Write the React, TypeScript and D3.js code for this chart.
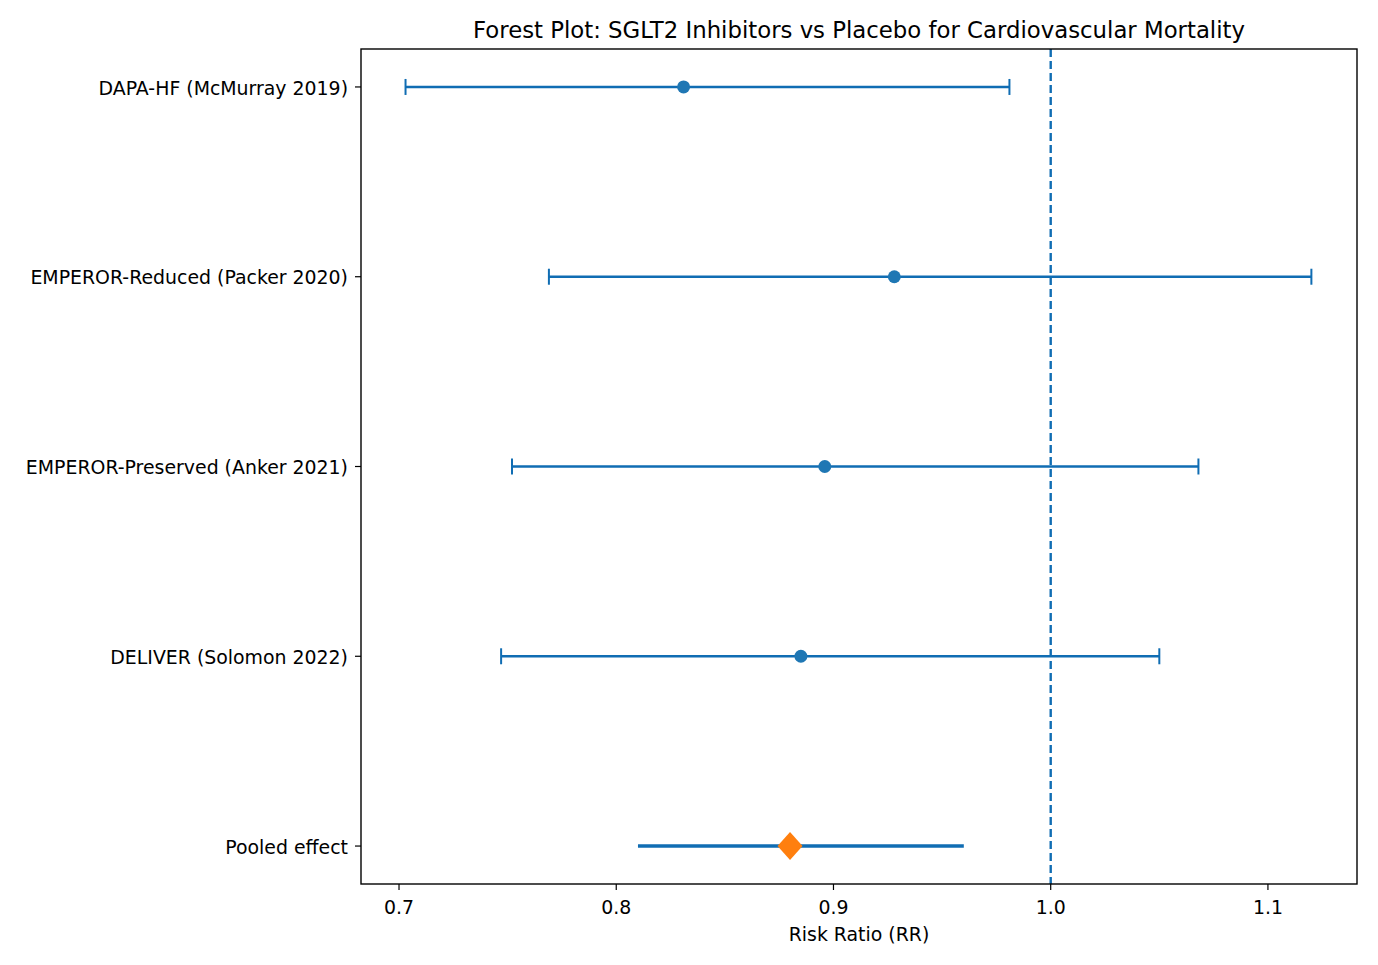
import { useEffect } from "react";
import { scaleLinear } from "d3";

// Study rows, top to bottom
const studies = [
  "DAPA-HF (McMurray 2019)",
  "EMPEROR-Reduced (Packer 2020)",
  "EMPEROR-Preserved (Anker 2021)",
  "DELIVER (Solomon 2022)",
];
const estimates = [0.831, 0.928, 0.896, 0.885];
const lowers = [0.703, 0.769, 0.752, 0.747];
const uppers = [0.981, 1.12, 1.068, 1.05];

const pooledLabel = "Pooled effect";
const pooledEstimate = 0.88;
const pooledLower = 0.81;
const pooledUpper = 0.96;

const xTicks = [0.7, 0.8, 0.9, 1.0, 1.1];

const W = 1378;
const H = 965;
const M = { top: 49, right: 21, bottom: 81, left: 361 };

const FONT = "DejaVu Sans, sans-serif";
const BLUE = "#1f77b4";
const LINE = "#106db3";
const ORANGE = "#ff7f0e";

export default function App() {
  useEffect(() => {
    document.body.style.margin = "0";
  }, []);

  const labels = [...studies, pooledLabel];

  const x = scaleLinear()
    .domain([0.6825, 1.141])
    .range([M.left, W - M.right]);

  const y = scaleLinear()
    .domain([-0.2, labels.length - 1 + 0.2])
    .range([M.top, H - M.bottom]);

  const cap = 8;
  const py = y(studies.length);
  const px = x(pooledEstimate);

  return (
    <svg width={W} height={H} style={{ display: "block", background: "#fff" }} fontFamily={FONT}>
      {/* Title */}
      <text x={(M.left + W - M.right) / 2} y={M.top - 11} textAnchor="middle" fontSize={22.8} fill="#000">
        Forest Plot: SGLT2 Inhibitors vs Placebo for Cardiovascular Mortality
      </text>

      {/* Null line */}
      <line x1={x(1)} x2={x(1)} y1={M.top} y2={H - M.bottom} stroke={LINE} strokeWidth={2.4} strokeDasharray="8,4" />

      {/* Study CIs */}
      {studies.map((s, i) => {
        const cy = y(i);
        return (
          <g key={s}>
            <line x1={x(lowers[i])} x2={x(uppers[i])} y1={cy} y2={cy} stroke={LINE} strokeWidth={2.6} />
            <line x1={x(lowers[i])} x2={x(lowers[i])} y1={cy - cap} y2={cy + cap} stroke={LINE} strokeWidth={2} />
            <line x1={x(uppers[i])} x2={x(uppers[i])} y1={cy - cap} y2={cy + cap} stroke={LINE} strokeWidth={2} />
            <circle cx={x(estimates[i])} cy={cy} r={6.5} fill={BLUE} />
          </g>
        );
      })}

      {/* Pooled */}
      <line x1={x(pooledLower)} x2={x(pooledUpper)} y1={py} y2={py} stroke={LINE} strokeWidth={3.6} />
      <path d={`M${px},${py - 14} L${px + 12.5},${py} L${px},${py + 14} L${px - 12.5},${py} Z`} fill={ORANGE} />

      {/* Frame */}
      <rect x={M.left} y={M.top} width={W - M.left - M.right} height={H - M.top - M.bottom} fill="none" stroke="#000" strokeWidth={1.4} />

      {/* Y axis */}
      {labels.map((l, i) => (
        <g key={l}>
          <line x1={M.left - 6} x2={M.left} y1={y(i)} y2={y(i)} stroke="#000" strokeWidth={1.2} />
          <text x={M.left - 13} y={y(i) + 1} dy="0.35em" textAnchor="end" fontSize={18.9} fill="#000">
            {l}
          </text>
        </g>
      ))}

      {/* X axis */}
      {xTicks.map((t) => (
        <g key={t}>
          <line x1={x(t)} x2={x(t)} y1={H - M.bottom} y2={H - M.bottom + 6} stroke="#000" strokeWidth={1.2} />
          <text x={x(t)} y={H - M.bottom + 30} textAnchor="middle" fontSize={18.9} fill="#000">
            {t.toFixed(1)}
          </text>
        </g>
      ))}
      <text x={(M.left + W - M.right) / 2} y={H - M.bottom + 57} textAnchor="middle" fontSize={18.9} fill="#000">
        Risk Ratio (RR)
      </text>
    </svg>
  );
}
